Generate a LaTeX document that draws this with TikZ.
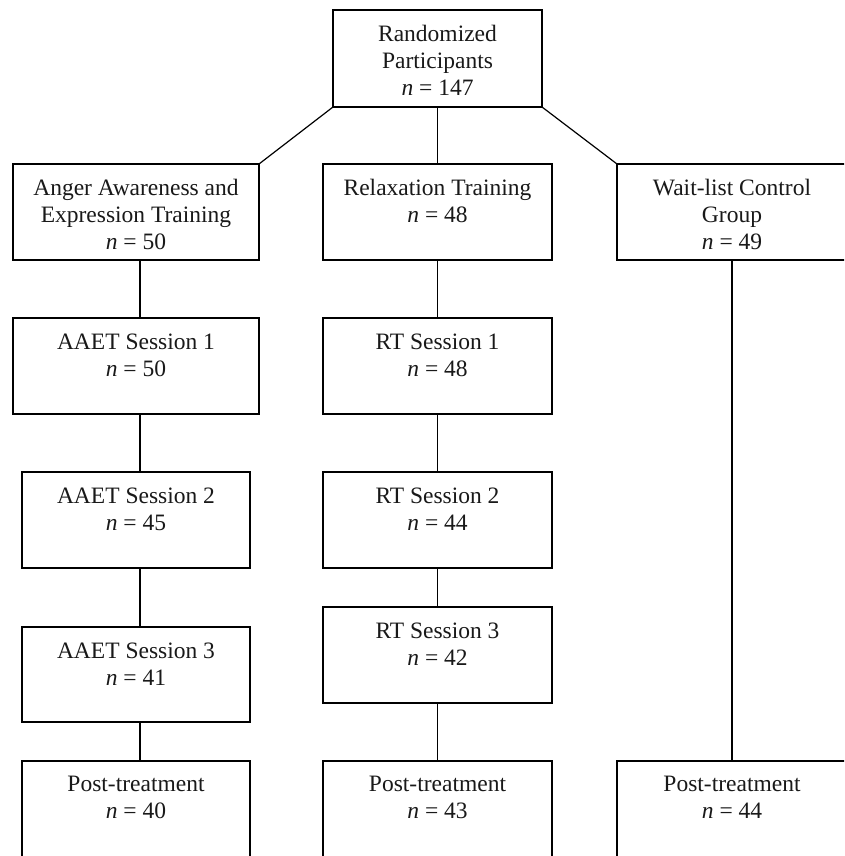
\documentclass[tikz,border=0pt]{standalone}
\usepackage{fontspec}
\setmainfont{Liberation Serif}
\newcommand\flowbox[6]{%
  \node[bx, minimum width={#4-#2}, minimum height={#5-#3}] (#1) at ({(#2+#4)/2},{(#3+#5)/2}) {};
  \node[txt] (#1t) at ([yshift=-15pt]#1.north) {#6};}
\begin{document}
\begin{tikzpicture}[x=1pt,y=-1pt,line width=1.2pt,
  bx/.style={draw=black, inner sep=0pt, outer sep=0pt},
  txt/.style={anchor=north, inner sep=0pt, align=center, text=black!90,
    font=\fontsize{23.5}{27}\selectfont},
  link/.style={draw=black, line width=1.2pt}]
\useasboundingbox (0,0) rectangle (844,856);
\clip (0,0) rectangle (844,856);
\fill[white] (0,0) rectangle (844,856);
% row 1
\flowbox{top}{333}{10}{542}{107}{Randomized\\Participants\\\textit{n} = 147}
% row 2
\flowbox{Ltwo}{13}{164}{259}{260}{Anger Awareness and\\Expression Training\\\textit{n} = 50}
\flowbox{Mtwo}{323}{164}{552}{260}{Relaxation Training\\\textit{n} = 48}
\flowbox{Rtwo}{617}{164}{847}{260}{Wait-list Control\\Group\\\textit{n} = 49}
% row 3
\flowbox{Lthree}{13}{318}{259}{414}{AAET Session 1\\\textit{n} = 50}
\flowbox{Mthree}{323}{318}{552}{414}{RT Session 1\\\textit{n} = 48}
% row 4
\flowbox{Lfour}{22}{472}{250}{568}{AAET Session 2\\\textit{n} = 45}
\flowbox{Mfour}{323}{472}{552}{568}{RT Session 2\\\textit{n} = 44}
% row 5
\flowbox{Lfive}{22}{627}{250}{722}{AAET Session 3\\\textit{n} = 41}
\flowbox{Mfive}{323}{607}{552}{703}{RT Session 3\\\textit{n} = 42}
% row 6
\flowbox{Lsix}{22}{761}{250}{900}{Post-treatment\\\textit{n} = 40}
\flowbox{Msix}{323}{761}{552}{900}{Post-treatment\\\textit{n} = 43}
\flowbox{Rsix}{617}{761}{847}{900}{Post-treatment\\\textit{n} = 44}
% connectors
\draw[link] (top.south west) -- (Ltwo.north east);
\draw[link] (top.south) -- (Mtwo.north);
\draw[link] (top.south east) -- (Rtwo.north west);
\draw[link] ([xshift=4pt]Ltwo.south) -- ([xshift=4pt]Lthree.north);
\draw[link] ([xshift=4pt]Lthree.south) -- ([xshift=4pt]Lfour.north);
\draw[link] ([xshift=4pt]Lfour.south) -- ([xshift=4pt]Lfive.north);
\draw[link] ([xshift=4pt]Lfive.south) -- ([xshift=4pt]Lsix.north);
\draw[link] (Mtwo.south) -- (Mthree.north);
\draw[link] (Mthree.south) -- (Mfour.north);
\draw[link] (Mfour.south) -- (Mfive.north);
\draw[link] (Mfive.south) -- (Msix.north);
\draw[link] (Rtwo.south) -- (Rsix.north);
\end{tikzpicture}
\end{document}
